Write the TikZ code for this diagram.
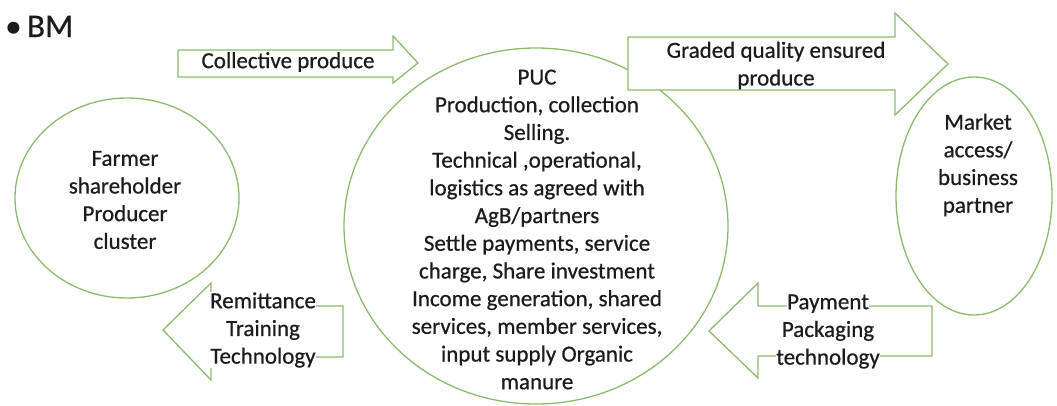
\documentclass[tikz,border=0pt]{standalone}
\usepackage{fontspec}
\setmainfont{Carlito}[FakeBold=0.6]
\usetikzlibrary{shapes.geometric}
\definecolor{gline}{RGB}{140,187,110}
\definecolor{txt}{RGB}{28,28,28}
\newcommand\wbox[1]{{\setlength\fboxsep{0pt}\colorbox{white}{#1}}}
\begin{document}
\begin{tikzpicture}[x=1pt,y=-1pt,
  shp/.style={draw=gline,line width=1.3pt,fill=white},
  oval/.style={ellipse,draw=gline,line width=1.3pt,inner sep=0pt},
  lbl/.style={text=txt,font=\fontsize{23}{27.7}\selectfont,align=center,inner sep=0pt},
]
\useasboundingbox (0,0) rectangle (1057,405);
\fill[white] (0,0) rectangle (1057,405);

% title
\node[anchor=base west,inner sep=0pt,text=txt,font=\fontsize{33}{38}\selectfont] (title) at (5,37) {•\,BM};

% ellipses
\node[oval,minimum width=224pt,minimum height=200pt] (farmer) at (127,198) {};
\node[oval,minimum width=384pt,minimum height=356pt] (puc) at (536,226) {};
\node[oval,minimum width=156pt,minimum height=238pt] (market) at (974,196) {};

% block arrows
\draw[shp] (178,50) -- (393,50) -- (393,36) -- (418,63) -- (393,83) -- (393,77) -- (178,77) -- cycle;
\draw[shp] (628,37) -- (895,37) -- (895,13) -- (948,64) -- (895,115) -- (895,90) -- (628,90) -- cycle;
\draw[shp] (343,306) -- (211,306) -- (211,283) -- (163,330) -- (211,380) -- (211,357) -- (343,357) -- cycle;
\draw[shp] (932,306) -- (758,306) -- (758,283) -- (709,331) -- (758,378) -- (758,356) -- (932,356) -- cycle;

% texts
\node[lbl] (farmertext) at (125,200) {Farmer\\shareholder\\Producer\\cluster};
\node[lbl] (puctext) at (537,229.5) {PUC\\Production, collection\\Selling.\\Technical ,operational,\\logistics as agreed with\\AgB/partners\\Settle payments, service\\charge, Share investment\\Income generation, shared\\services, member services,\\input supply Organic\\manure};
\node[lbl] (markettext) at (978,165) {Market\\access/\\business\\partner};
\node[lbl] (collective) at (288,62) {Collective produce};
\node[lbl] (graded) at (776,65.5) {Graded quality ensured\\produce};
\node[lbl] (remit) at (263,330) {\wbox{Remittance}\\\wbox{Training}\\\wbox{Technology}};
\node[lbl] (payment) at (828,331.5) {\wbox{Payment}\\\wbox{Packaging}\\\wbox{technology}};
\end{tikzpicture}
\end{document}
